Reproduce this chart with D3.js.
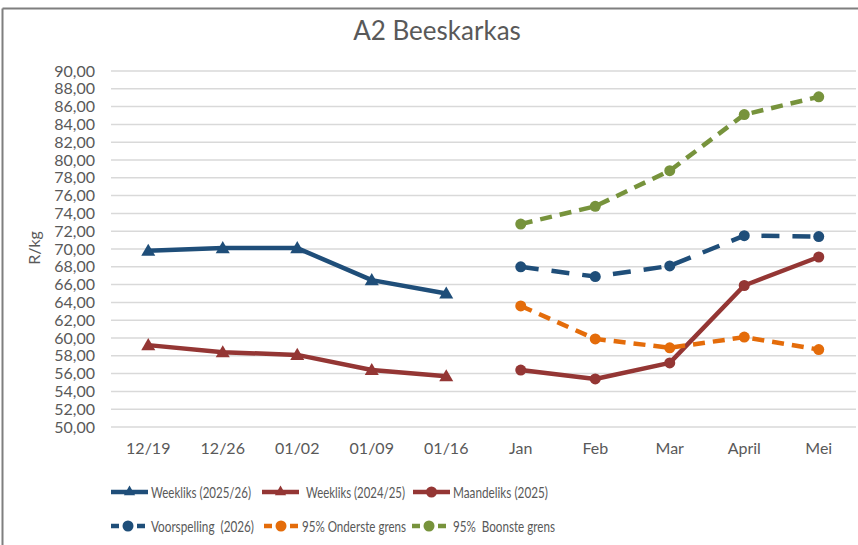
<!DOCTYPE html>
<html>
<head>
<meta charset="utf-8">
<script src="https://cdn.jsdelivr.net/npm/d3@7"></script>
<style>
  html, body { margin: 0; padding: 0; background: #fff; }
  svg { display: block; font-family: Lato, "Open Sans", sans-serif; }
</style>
</head>
<body>
<svg id="chart" width="858" height="545"></svg>
<script>
// ---- Data ----
const categories = ["12/19", "12/26", "01/02", "01/09", "01/16", "Jan", "Feb", "Mar", "April", "Mei"];
const weekly2526 = [69.8, 70.1, 70.1, 66.5, 65.0, null, null, null, null, null];
const weekly2425 = [59.2, 58.4, 58.1, 56.4, 55.7, null, null, null, null, null];
const monthly2025 = [null, null, null, null, null, 56.4, 55.4, 57.2, 65.9, 69.1];
const forecast2026 = [null, null, null, null, null, 68.0, 66.9, 68.1, 71.5, 71.4];
const lower95 = [null, null, null, null, null, 63.6, 59.9, 58.9, 60.1, 58.7];
const upper95 = [null, null, null, null, null, 72.8, 74.8, 78.8, 85.1, 87.1];
const yTicks = [50, 52, 54, 56, 58, 60, 62, 64, 66, 68, 70, 72, 74, 76, 78, 80, 82, 84, 86, 88, 90];
const seriesNames = ["Weekliks (2025/26)", "Weekliks (2024/25)", "Maandeliks (2025)",
                     "Voorspelling  (2026)", "95% Onderste grens", "95%  Boonste grens"];
const title = "A2 Beeskarkas";
const yTitle = "R/kg";

// ---- Styles ----
const seriesStyles = [
  { color: "#1F4E79", dash: null, marker: "triangle" },
  { color: "#943634", dash: null, marker: "triangle" },
  { color: "#943634", dash: null, marker: "circle" },
  { color: "#1F4E79", dash: "18,13", marker: "circle" },
  { color: "#E46C0A", dash: "12,8", marker: "circle" },
  { color: "#77933C", dash: "12,8", marker: "circle" }
];
const seriesValues = [weekly2526, weekly2425, monthly2025, forecast2026, lower95, upper95];
const legendLayout = [
  { x: 111, y: 492, tx: 151, w: 100 }, { x: 262, y: 492, tx: 306, w: 99 }, { x: 413, y: 492, tx: 453, w: 95 },
  { x: 111, y: 526, tx: 151, w: 103 }, { x: 264, y: 526, tx: 302, w: 104 }, { x: 412, y: 526, tx: 453, w: 102 }
];

const svg = d3.select("#chart");
const W = 858, H = 545;
const plot = { left: 111, right: 856, top: 71, bottom: 427 };

// border (top and left only, as in reference)
svg.append("line").attr("x1", 2.5).attr("x2", W).attr("y1", 8.5).attr("y2", 8.5)
  .attr("stroke", "#7f7f7f").attr("stroke-width", 2);
svg.append("line").attr("x1", 2.5).attr("x2", 2.5).attr("y1", 8.5).attr("y2", H)
  .attr("stroke", "#7f7f7f").attr("stroke-width", 2);

const x = d3.scaleBand().domain(categories).range([plot.left, plot.right]).padding(0);
const y = d3.scaleLinear().domain([50, 90]).range([plot.bottom, plot.top]);
const cx = c => x(c) + x.bandwidth() / 2;

// gridlines
svg.append("g").selectAll("line").data(yTicks).join("line")
  .attr("x1", plot.left).attr("x2", plot.right)
  .attr("y1", d => y(d)).attr("y2", d => y(d))
  .attr("stroke", "#d9d9d9").attr("stroke-width", 1.5);

// y axis labels
const yAxis = d3.axisLeft(y).tickValues(yTicks).tickSize(0).tickPadding(0)
  .tickFormat(d => d3.format(".2f")(d).replace(".", ","));
const yg = svg.append("g").attr("transform", `translate(95,0)`).call(yAxis);
yg.select(".domain").remove();
yg.selectAll("text").attr("fill", "#595959").attr("font-size", 16).attr("font-family", "Lato");

// x axis labels
const xAxis = d3.axisBottom(x).tickSize(0).tickPadding(0);
const xg = svg.append("g").attr("transform", `translate(0,443)`).call(xAxis);
xg.select(".domain").remove();
xg.selectAll("text").attr("fill", "#595959").attr("font-size", 16).attr("font-family", "Lato");

// title
svg.append("text").attr("x", 437).attr("y", 40).attr("text-anchor", "middle")
  .attr("fill", "#595959").attr("font-size", 26).text(title);

// y title
svg.append("text").attr("transform", "translate(40,248) rotate(-90)")
  .attr("text-anchor", "middle").attr("fill", "#595959").attr("font-size", 16).text(yTitle);

// lines
const line = d3.line().defined(d => d.v != null).x(d => cx(d.c)).y(d => y(d.v));
const triangle = d3.symbol().type(d3.symbolTriangle).size(85);

seriesValues.forEach((vals, si) => {
  const s = seriesStyles[si];
  const pts = categories.map((c, i) => ({ c, v: vals[i] }));
  svg.append("path").datum(pts).attr("d", line)
    .attr("fill", "none").attr("stroke", s.color).attr("stroke-width", 4.5)
    .attr("stroke-linejoin", "round")
    .attr("stroke-dasharray", s.dash);
  const valid = pts.filter(d => d.v != null);
  if (s.marker === "circle") {
    svg.append("g").selectAll("circle").data(valid).join("circle")
      .attr("cx", d => cx(d.c)).attr("cy", d => y(d.v)).attr("r", 5.5)
      .attr("fill", s.color);
  } else {
    svg.append("g").selectAll("path").data(valid).join("path")
      .attr("d", triangle).attr("transform", d => `translate(${cx(d.c)},${y(d.v) + 1})`)
      .attr("fill", s.color);
  }
});

// legend
seriesNames.forEach((name, i) => {
  const s = seriesStyles[i];
  const p = legendLayout[i];
  const g = svg.append("g");
  const len = (s.dash ? 34 : 37);
  g.append("line").attr("x1", p.x).attr("x2", p.x + len).attr("y1", p.y).attr("y2", p.y)
    .attr("stroke", s.color).attr("stroke-width", 4.5)
    .attr("stroke-dasharray", s.dash ? "8,5" : null);
  if (s.marker === "circle") {
    g.append("circle").attr("cx", p.x + len / 2).attr("cy", p.y).attr("r", 5.5).attr("fill", s.color);
  } else {
    g.append("path").attr("d", d3.symbol().type(d3.symbolTriangle).size(55)())
      .attr("transform", `translate(${p.x + len / 2},${p.y})`).attr("fill", s.color);
  }
  g.append("text").attr("x", p.tx).attr("y", p.y).attr("dy", "0.35em")
    .attr("fill", "#595959").attr("font-size", 16)
    .attr("textLength", p.w).attr("lengthAdjust", "spacingAndGlyphs")
    .style("white-space", "pre").text(name);
});
</script>
</body>
</html>
